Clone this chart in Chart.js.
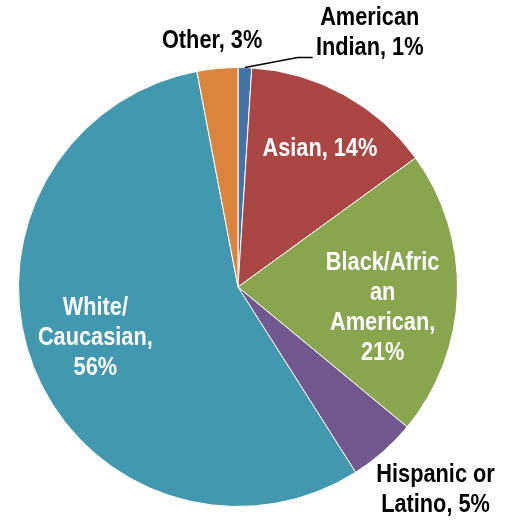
<!DOCTYPE html>
<html>
<head>
<meta charset="utf-8">
<script src="https://cdn.jsdelivr.net/npm/chart.js@4"></script>
<style>
html,body{margin:0;padding:0;background:#fff;}
#wrap{width:510px;height:520px;}
</style>
</head>
<body>
<div id="wrap"><canvas id="c" width="510" height="520"></canvas></div>
<script>
// ---- data ----
const categories = ['American Indian', 'Asian', 'Black/African American', 'Hispanic or Latino', 'White/Caucasian', 'Other'];
const values = [1, 14, 21, 5, 56, 3];
const colors = ['#4573a7', '#aa4644', '#89a54e', '#71588f', '#4198af', '#db843d'];
// wrapped label name lines (as shown on the chart)
const nameLines = [['American', 'Indian'], ['Asian'], ['Black/Afric', 'an', 'American'], ['Hispanic or', 'Latino'], ['White/', 'Caucasian'], ['Other']];

// ---- label layout (offsets from pie centre, in units of radius) ----
const labelLayout = [
  {fx: 0.60, fy: -1.155, color: '#000', pctOwnLine: false, leader: true},
  {fx: 0.373, fy: -0.627, color: '#fff', pctOwnLine: false},
  {fx: 0.659, fy: 0.095, color: '#fff', pctOwnLine: true},
  {fx: 0.900, fy: 0.927, color: '#000', pctOwnLine: false},
  {fx: -0.650, fy: 0.232, color: '#fff', pctOwnLine: true},
  {fx: -0.118, fy: -1.118, color: '#000', pctOwnLine: false}
];
const FONT = 'bold 25px "Liberation Sans Narrow", "Liberation Sans", Arial, sans-serif';
const X_SCALE = 0.87; // condensed look of the original narrow typeface
const LINE_H = 30;

const labelPlugin = {
  id: 'sliceLabels',
  afterDatasetsDraw(chart) {
    const ctx = chart.ctx;
    const meta = chart.getDatasetMeta(0);
    const ds = chart.data.datasets[0];
    meta.data.forEach((arc, i) => {
      const L = labelLayout[i];
      const r = arc.outerRadius;
      const cx = arc.x + L.fx * r;
      const cy = arc.y + L.fy * r;
      const lines = nameLines[i].slice();
      const pct = ds.data[i] + '%';
      if (L.pctOwnLine) {
        lines[lines.length - 1] += ',';
        lines.push(pct);
      } else {
        lines[lines.length - 1] += ', ' + pct;
      }
      const top = cy - (lines.length - 1) * LINE_H / 2;
      ctx.save();
      ctx.font = FONT;
      ctx.fillStyle = L.color;
      ctx.textAlign = 'center';
      ctx.textBaseline = 'middle';
      lines.forEach((t, k) => {
        ctx.save();
        ctx.translate(cx, top + k * LINE_H);
        ctx.scale(X_SCALE, 1);
        ctx.fillText(t, 0, 0);
        ctx.restore();
      });
      if (L.leader) {
        const mid = (arc.startAngle + arc.endAngle) / 2;
        const sx = arc.x + Math.cos(mid) * r;
        const sy = arc.y + Math.sin(mid) * r;
        const ey = cy + 24;
        const ex = cx - 57;
        ctx.strokeStyle = '#000';
        ctx.lineWidth = 1.5;
        ctx.beginPath();
        ctx.moveTo(sx, sy);
        ctx.lineTo(ex - 15, ey);
        ctx.lineTo(ex, ey);
        ctx.stroke();
      }
      ctx.restore();
    });
  }
};

new Chart(document.getElementById('c'), {
  type: 'pie',
  data: {
    labels: categories,
    datasets: [{
      data: values,
      backgroundColor: colors,
      borderColor: '#ffffff',
      borderWidth: 1,
      hoverOffset: 0,
      offset: 0
    }]
  },
  options: {
    responsive: false,
    animation: false,
    devicePixelRatio: 1,
    events: [],
    layout: {padding: {left: 18, right: 52, top: 67, bottom: 13}},
    plugins: {
      legend: {display: false},
      tooltip: {enabled: false},
      title: {display: false}
    }
  },
  plugins: [labelPlugin]
});
</script>
</body>
</html>
